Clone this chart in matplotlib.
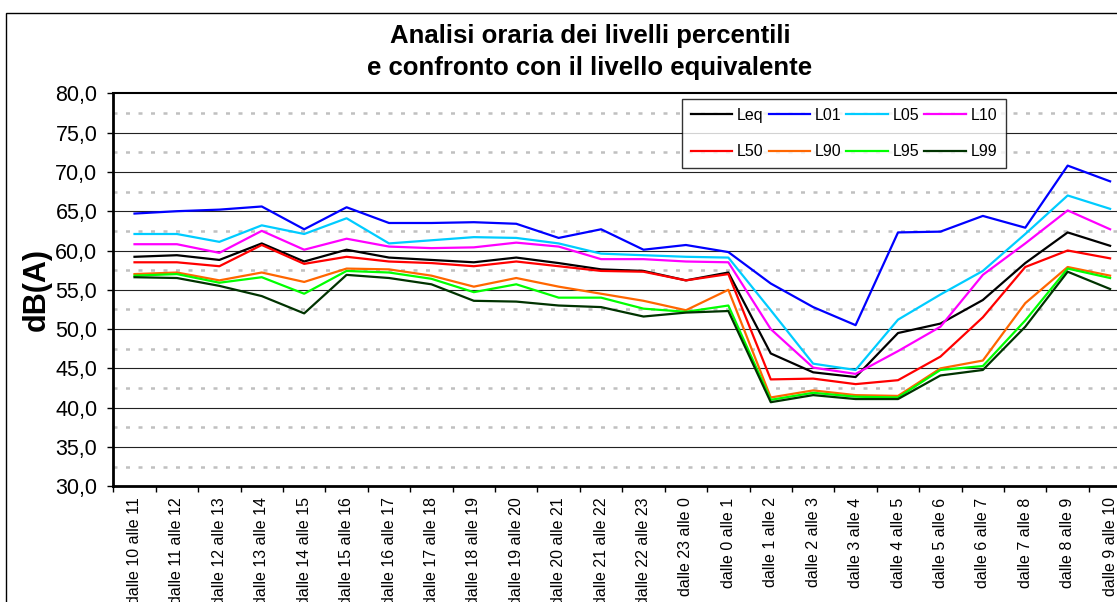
import matplotlib
matplotlib.use("Agg")
import matplotlib.pyplot as plt
from matplotlib.patches import Rectangle
from matplotlib.ticker import FuncFormatter

plt.rcParams['font.family'] = ['Liberation Sans', 'DejaVu Sans']

ore = [10, 11, 12, 13, 14, 15, 16, 17, 18, 19, 20, 21, 22, 23,
       0, 1, 2, 3, 4, 5, 6, 7, 8, 9]
fasce = ["dalle %d alle %d" % (h, (h + 1) % 24) for h in ore]

Leq = [59.2, 59.4, 58.8, 60.9, 58.6, 60.1, 59.1, 58.8, 58.5, 59.1, 58.4, 57.6,
       57.4, 56.2, 57.2, 46.9, 44.5, 43.9, 49.5, 50.7, 53.7, 58.4, 62.3, 60.6]
L01 = [64.7, 65.0, 65.2, 65.6, 62.7, 65.5, 63.5, 63.5, 63.6, 63.4, 61.6, 62.7,
       60.1, 60.7, 59.8, 55.8, 52.8, 50.5, 62.3, 62.4, 64.4, 62.9, 70.8, 68.8]
L05 = [62.1, 62.1, 61.1, 63.2, 62.1, 64.1, 60.9, 61.3, 61.7, 61.6, 60.9, 59.6,
       59.4, 59.2, 59.1, 52.4, 45.6, 44.8, 51.2, 54.4, 57.4, 62.1, 67.0, 65.3]
L10 = [60.8, 60.8, 59.7, 62.5, 60.1, 61.5, 60.5, 60.3, 60.4, 61.0, 60.5, 58.9,
       58.9, 58.6, 58.5, 50.0, 45.1, 44.3, 47.2, 50.3, 56.9, 60.9, 65.1, 62.7]
L50 = [58.5, 58.5, 58.0, 60.7, 58.3, 59.2, 58.6, 58.4, 58.0, 58.6, 58.0, 57.4,
       57.3, 56.2, 57.0, 43.6, 43.7, 43.0, 43.5, 46.5, 51.5, 57.9, 60.0, 59.0]
L90 = [57.0, 57.2, 56.2, 57.2, 56.0, 57.7, 57.6, 56.8, 55.4, 56.5, 55.4, 54.5,
       53.6, 52.4, 55.0, 41.3, 42.2, 41.6, 41.5, 45.0, 46.0, 53.3, 57.9, 56.8]
L95 = [56.8, 57.0, 55.9, 56.6, 54.5, 57.4, 57.2, 56.4, 54.7, 55.7, 54.0, 54.0,
       52.6, 52.2, 53.0, 41.0, 41.9, 41.4, 41.3, 44.8, 45.3, 51.1, 57.7, 56.5]
L99 = [56.6, 56.5, 55.5, 54.2, 52.0, 56.9, 56.5, 55.7, 53.6, 53.5, 53.0, 52.8,
       51.6, 52.1, 52.3, 40.7, 41.6, 41.1, 41.1, 44.1, 44.8, 50.3, 57.3, 55.1]

serie = [("Leq", Leq, "#000000"), ("L01", L01, "#0000FF"), ("L05", L05, "#00CCFF"),
         ("L10", L10, "#FF00FF"), ("L50", L50, "#FF0000"), ("L90", L90, "#FF6600"),
         ("L95", L95, "#00FF00"), ("L99", L99, "#003300")]

W, H = 1117, 602
fig = plt.figure(figsize=(W / 100, H / 100), dpi=100)
# plot area runs past the right edge of the image
ax = fig.add_axes([113.3 / W, (H - 486.3) / H, 1018 / W, 393 / H])

# chart frame
fig.patches.append(Rectangle((5.5 / W, -0.1), 1.2, (H - 12.5) / H + 0.1,
                             transform=fig.transFigure, fill=False,
                             edgecolor="black", linewidth=1.0))

x = list(range(len(fasce)))
linee = []
for nome, valori, colore in serie:
    l, = ax.plot(x, valori, color=colore, linewidth=1.6, label=nome, zorder=3)
    linee.append(l)

ax.set_xlim(-0.5, len(fasce) - 0.5)
ax.set_ylim(30, 80)

# solid lines every 5 dB, dashed grey ones in between
for v in range(35, 80, 5):
    ax.axhline(v, color="#222222", linewidth=0.8, zorder=1)
for v in range(30, 80, 5):
    ax.axhline(v + 2.5, color="#C0C0C0", linewidth=1.8, zorder=1,
               linestyle=(0, (1.6, 3.4)), dash_capstyle="butt")

ax.set_yticks(range(30, 81, 5))
ax.yaxis.set_major_formatter(FuncFormatter(lambda v, p: ("%.1f" % v).replace(".", ",")))
ax.tick_params(axis="y", labelsize=15.5, length=4.5, width=1, pad=7)

ax.set_xticks([i - 0.5 for i in range(len(fasce) + 1)])
ax.set_xticklabels([])
ax.set_xticks(x, minor=True)
ax.set_xticklabels(fasce, minor=True, rotation=90, va="top", ha="center")
ax.tick_params(axis="x", which="major", length=4, width=1)
ax.tick_params(axis="x", which="minor", length=0, labelsize=11.5, pad=8)

for lato in ["left", "bottom"]:
    ax.spines[lato].set_linewidth(2)
ax.spines["top"].set_linewidth(1.5)
ax.spines["right"].set_visible(False)

ax.set_ylabel("dB(A)", fontsize=22, fontweight="bold")
ax.yaxis.set_label_coords(-0.060, 0.5)

fig.text(590 / W, 1 - 52 / H, "Analisi oraria dei livelli percentili\ne confronto con il livello equivalente",
         ha="center", va="center", fontsize=18.5, fontweight="bold", linespacing=1.45)

# two rows: Leq L01 L05 L10 / L50 L90 L95 L99 (legend fills by column)
ordine = [0, 4, 1, 5, 2, 6, 3, 7]
leg = ax.legend([linee[i] for i in ordine], [serie[i][0] for i in ordine],
                ncol=4, loc="upper left", bbox_to_anchor=(0.5587, 0.9855),
                borderaxespad=0, fontsize=11.5, frameon=True, fancybox=False,
                edgecolor="black", handlelength=2.6, handletextpad=0.3,
                columnspacing=0.3, labelspacing=1.35, borderpad=0.55)
leg.get_frame().set_linewidth(1.0)
leg.set_zorder(5)

fig.savefig("out.png", dpi=100)
